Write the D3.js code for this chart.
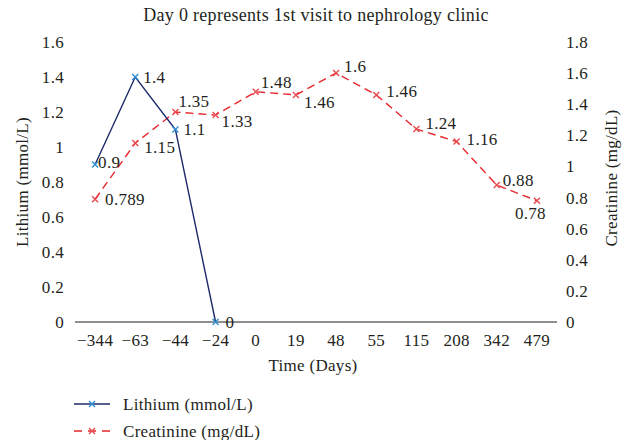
<!DOCTYPE html>
<html lang="en">
<head>
<meta charset="UTF-8">
<title>Lithium and Creatinine</title>
<script src="https://cdnjs.cloudflare.com/ajax/libs/d3/7.8.5/d3.min.js"></script>
<style>
  body { margin: 0; background: #fff; }
  svg text { font-family: "Liberation Serif", "DejaVu Serif", serif; fill: #231f20; letter-spacing: 0.3px; }
</style>
</head>
<body>
<svg id="chart" width="627" height="440"></svg>
<script>
    // data
    const days = ["\u2212344", "\u221263", "\u221244", "\u221224", "0", "19", "48", "55", "115", "208", "342", "479"];
    const lithium = [0.9, 1.4, 1.1, 0];
    const creatinine = [0.789, 1.15, 1.35, 1.33, 1.48, 1.46, 1.6, 1.46, 1.24, 1.16, 0.88, 0.78];
    const leftTicks = [0, 0.2, 0.4, 0.6, 0.8, 1, 1.2, 1.4, 1.6];
    const rightTicks = [0, 0.2, 0.4, 0.6, 0.8, 1, 1.2, 1.4, 1.6, 1.8];
    // label offsets [dx, dy] for each creatinine point
    const crLabelPos = [[10, 0], [9, 4], [3, -11], [6, 6], [5, -10], [8, 7], [8, -7], [10, -4], [9, -6], [10, -3], [6, -5], [-22, 12]];

    const svg = d3.select("#chart");
    const fontSize = 17;

    const x = d3.scaleBand().domain(days).range([75, 557]);
    const yL = d3.scaleLinear().domain([0, 1.6]).range([322, 42]);
    const yR = d3.scaleLinear().domain([0, 1.8]).range([322, 42]);
    const cx = i => x(days[i]) + x.bandwidth() / 2;

    // title
    svg.append("text")
        .attr("x", 316).attr("y", 21)
        .attr("text-anchor", "middle")
        .style("font-size", "18px")
        .text("Day 0 represents 1st visit to nephrology clinic");

    // left axis labels
    svg.append("g").selectAll("text").data(leftTicks).join("text")
        .attr("x", 64).attr("y", d => yL(d))
        .attr("dy", "0.35em")
        .attr("text-anchor", "end")
        .style("font-size", fontSize + "px")
        .text(d => d);

    // right axis labels
    svg.append("g").selectAll("text").data(rightTicks).join("text")
        .attr("x", 566).attr("y", d => yR(d))
        .attr("dy", "0.35em")
        .style("font-size", fontSize + "px")
        .text(d => d);

    // x axis line + labels
    svg.append("line")
        .attr("x1", 75).attr("x2", 557)
        .attr("y1", yL(0)).attr("y2", yL(0))
        .attr("stroke", "#231f20").attr("stroke-width", 1.2);

    svg.append("g").selectAll("text").data(days).join("text")
        .attr("x", (d, i) => cx(i)).attr("y", 340)
        .attr("dy", "0.35em")
        .attr("text-anchor", "middle")
        .style("font-size", fontSize + "px")
        .text(d => d);

    // axis titles
    svg.append("text")
        .attr("x", 313).attr("y", 371)
        .attr("text-anchor", "middle")
        .style("font-size", fontSize + "px")
        .text("Time (Days)");

    svg.append("text")
        .attr("transform", "translate(28,182) rotate(-90)")
        .attr("text-anchor", "middle")
        .style("font-size", fontSize + "px")
        .text("Lithium (mmol/L)");

    svg.append("text")
        .attr("transform", "translate(617,178) rotate(-90)")
        .attr("text-anchor", "middle")
        .style("font-size", fontSize + "px")
        .text("Creatinine (mg/dL)");

    function cross(g, px, py, color) {
        const s = 3;
        g.append("path")
            .attr("d", `M${px - s},${py - s}L${px + s},${py + s}M${px - s},${py + s}L${px + s},${py - s}`)
            .attr("stroke", color).attr("stroke-width", 1.4).attr("fill", "none");
    }

    // creatinine series
    const crColor = "#e8262b";
    const crLine = d3.line().x((d, i) => cx(i)).y(d => yR(d));
    svg.append("path")
        .datum(creatinine)
        .attr("d", crLine)
        .attr("fill", "none")
        .attr("stroke", crColor)
        .attr("stroke-width", 1.4)
        .attr("stroke-dasharray", "8,5");
    const crG = svg.append("g");
    creatinine.forEach((v, i) => cross(crG, cx(i), yR(v), "#e84a4f"));
    svg.append("g").selectAll("text").data(creatinine).join("text")
        .attr("x", (d, i) => cx(i) + crLabelPos[i][0])
        .attr("y", (d, i) => yR(d) + crLabelPos[i][1])
        .attr("dy", "0.35em")
        .style("font-size", fontSize + "px")
        .text(d => d);

    // lithium series
    const liColor = "#1c2a6b";
    const liLine = d3.line().x((d, i) => cx(i)).y(d => yL(d));
    svg.append("path")
        .datum(lithium)
        .attr("d", liLine)
        .attr("fill", "none")
        .attr("stroke", liColor)
        .attr("stroke-width", 1.4);
    const liG = svg.append("g");
    lithium.forEach((v, i) => cross(liG, cx(i), yL(v), "#2c8fd6"));
    svg.append("g").selectAll("text").data(lithium).join("text")
        .attr("x", (d, i) => cx(i) + (i === 0 ? 3 : i === 3 ? 10 : 8))
        .attr("y", (d, i) => yL(d) - (i === 0 ? 2 : 0))
        .attr("dy", "0.35em")
        .style("font-size", fontSize + "px")
        .text(d => d);

    // legend
    const legend = svg.append("g");
    legend.append("line")
        .attr("x1", 74).attr("x2", 110).attr("y1", 404).attr("y2", 404)
        .attr("stroke", liColor).attr("stroke-width", 1.4);
    cross(legend, 92, 404, "#2c8fd6");
    legend.append("text")
        .attr("x", 123).attr("y", 404).attr("dy", "0.35em")
        .style("font-size", fontSize + "px")
        .text("Lithium (mmol/L)");

    legend.append("line")
        .attr("x1", 74).attr("x2", 110).attr("y1", 431).attr("y2", 431)
        .attr("stroke", crColor).attr("stroke-width", 1.4)
        .attr("stroke-dasharray", "8,6");
    cross(legend, 92, 431, "#e84a4f");
    legend.append("text")
        .attr("x", 123).attr("y", 431).attr("dy", "0.35em")
        .style("font-size", fontSize + "px")
        .text("Creatinine (mg/dL)");
</script>
</body>
</html>
